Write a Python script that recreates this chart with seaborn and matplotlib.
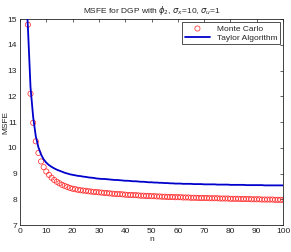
import numpy as np
import pandas as pd
import seaborn as sns
import matplotlib
matplotlib.use("Agg")
import matplotlib.pyplot as plt

# Monte Carlo MSFE, n = 3..100
n_mc = list(range(3, 101))
msfe_mc = [14.78, 12.10, 10.97, 10.25, 9.80, 9.47, 9.25, 9.08, 8.95, 8.84,
           8.75, 8.68, 8.62, 8.56, 8.52, 8.48, 8.44, 8.41,
           8.39, 8.37, 8.35, 8.34, 8.33, 8.31, 8.30, 8.29, 8.28, 8.27,
           8.26, 8.25, 8.24, 8.23, 8.22, 8.21, 8.20, 8.20, 8.19, 8.18,
           8.17, 8.17, 8.16, 8.16, 8.15, 8.14, 8.14, 8.13, 8.13, 8.12,
           8.12, 8.11, 8.11, 8.10, 8.10, 8.09, 8.09, 8.09, 8.08, 8.08,
           8.08, 8.07, 8.07, 8.07, 8.06, 8.06, 8.06, 8.05, 8.05, 8.05,
           8.05, 8.04, 8.04, 8.04, 8.04, 8.03, 8.03, 8.03, 8.03, 8.02,
           8.02, 8.02, 8.02, 8.01, 8.01, 8.01, 8.01, 8.00, 8.00, 8.00,
           8.00, 7.99, 7.99, 7.99, 7.99, 7.99, 7.98, 7.98, 7.98, 7.98]

# Taylor algorithm MSFE, n = 2..100
n_ta = list(range(2, 101))
msfe_ta = [16.6, 14.70, 12.35, 11.20, 10.45, 10.02, 9.74, 9.55, 9.42,
           9.33, 9.26, 9.20, 9.15, 9.11, 9.07, 9.03, 9.00, 8.97, 8.95,
           8.93, 8.91, 8.90, 8.88, 8.87, 8.85, 8.84, 8.83, 8.81, 8.80,
           8.79, 8.79, 8.78, 8.77, 8.76, 8.75, 8.75, 8.74, 8.73, 8.72,
           8.72, 8.71, 8.70, 8.70, 8.69, 8.68, 8.68, 8.67, 8.66, 8.66,
           8.65, 8.65, 8.64, 8.64, 8.63, 8.63, 8.62, 8.62, 8.61, 8.61,
           8.61, 8.60, 8.60, 8.60, 8.60, 8.59, 8.59, 8.59, 8.59, 8.58,
           8.58, 8.58, 8.58, 8.58, 8.57, 8.57, 8.57, 8.57, 8.57, 8.56,
           8.56, 8.56, 8.56, 8.56, 8.56, 8.55, 8.55, 8.55, 8.55, 8.55,
           8.55, 8.55, 8.54, 8.54, 8.54, 8.54, 8.54, 8.54, 8.54, 8.54]

df_mc = pd.DataFrame({'n': n_mc, 'msfe': msfe_mc})
df_ta = pd.DataFrame({'n': n_ta, 'msfe': msfe_ta})

sns.set_theme(style="white")
plt.rcParams['font.family'] = ['Liberation Sans', 'DejaVu Sans']
plt.rcParams['mathtext.fontset'] = 'dejavusans'

fig = plt.figure(figsize=(2.91, 2.52), dpi=100)
ax = fig.add_axes([0.0687, 0.107, 0.904, 0.8175])

sns.scatterplot(data=df_mc, x='n', y='msfe', ax=ax, marker='o', s=14,
                facecolor='none', edgecolor='#ff2020', linewidth=0.5,
                label='Monte Carlo', zorder=2)
sns.lineplot(data=df_ta, x='n', y='msfe', ax=ax, color='#0000cc',
             linewidth=1.3, label='Taylor Algorithm', zorder=3)

ax.set_xlim(0, 100)
ax.set_ylim(7, 15)
ax.set_xticks(range(0, 101, 10))
ax.set_yticks(range(7, 16))
ax.tick_params(direction='in', length=2, width=0.5, labelsize=6,
               top=True, right=True, pad=2, colors='#222222')
for sp in ax.spines.values():
    sp.set_linewidth(0.6)
    sp.set_color('#222222')

ax.set_xlabel('n', fontsize=6, labelpad=1)
ax.set_ylabel('MSFE', fontsize=6)
ax.yaxis.set_label_coords(-0.04, 0.5)
ax.set_title(r'MSFE for DGP with $\phi_2$, $\sigma_x$=10, $\sigma_u$=1',
             fontsize=6, pad=4)

leg = ax.legend(loc='upper right', fontsize=6, frameon=True, fancybox=False,
                borderpad=0.3, handlelength=3.0, labelspacing=0.15,
                borderaxespad=0.4)
leg.get_frame().set_edgecolor('black')
leg.get_frame().set_linewidth(0.6)

plt.savefig('out.png', dpi=100)
